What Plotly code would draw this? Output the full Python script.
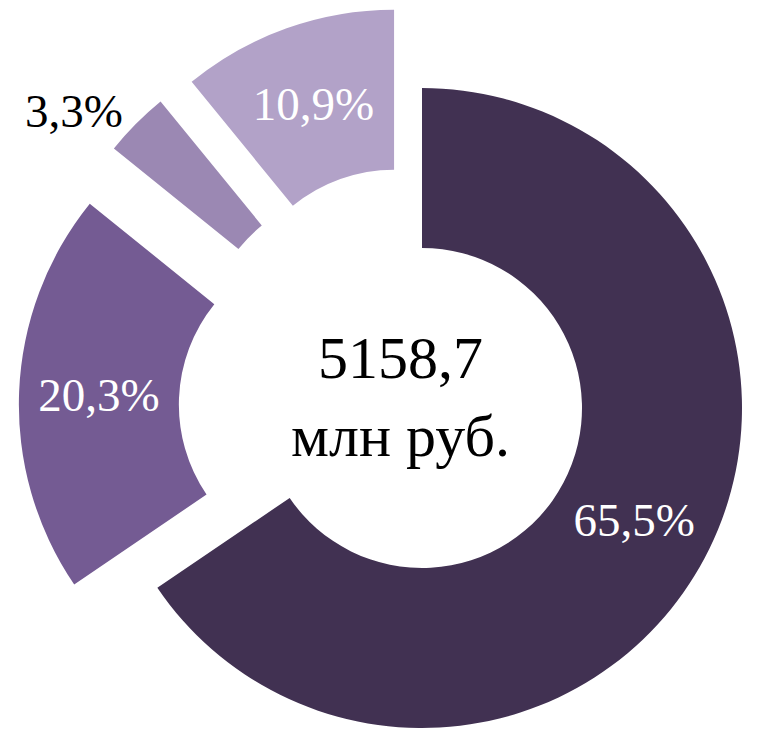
"""
Donut chart: structure of 5158,7 mln rub., small slices pulled out
"""

import math
import plotly.graph_objects as go

# Data
labels = ['A', 'B', 'C', 'D']
values = [65.5, 20.3, 3.3, 10.9]
pulls = [0, 0.26, 0.26, 0.26]
total_text = '5158,7'
unit_text = 'млн руб.'

colors = ['#413152', '#745b93', '#9b88b3', '#b2a2c8']
text_colors = ['white', 'white', 'black', 'white']
text_positions = ['inside', 'inside', 'outside', 'inside']

W, H = 757, 730
# page body adds an 8px margin, so positions are shifted back by it
OFF = 8
# unpulled pie center and radius, in pixels
CX, CY, R = 422 - OFF, 408 - OFF, 320
FONT = 'Liberation Serif, Times New Roman, serif'

fig = go.Figure()

total = sum(values)
start = 0.0
for i, v in enumerate(values):
    # each slice is drawn as its own pie, shifted outward along its mid angle
    mid = (start + v / 2) / total * 2 * math.pi
    start += v
    d = pulls[i] * R
    cx = CX + d * math.sin(mid)
    cy = CY - d * math.cos(mid)

    slice_colors = ['rgba(0,0,0,0)'] * len(values)
    slice_colors[i] = colors[i]
    templates = [''] * len(values)
    templates[i] = '%{value:.1f}%'

    fig.add_trace(go.Pie(
        labels=labels,
        values=values,
        hole=0.5,
        sort=False,
        direction='clockwise',
        rotation=0,
        marker=dict(colors=slice_colors, line=dict(width=0)),
        texttemplate=templates,
        textposition=text_positions[i],
        insidetextorientation='horizontal',
        textfont=dict(family=FONT, size=47, color=text_colors[i]),
        hoverinfo='skip',
        domain=dict(
            x=[(cx - R) / W, (cx + R) / W],
            y=[1 - (cy + R) / H, 1 - (cy - R) / H]
        ),
        showlegend=False
    ))

fig.add_annotation(
    x=(401 - OFF) / W, y=1 - (397 - OFF) / H,
    xref='paper', yref='paper',
    text=total_text + '<br>' + unit_text,
    showarrow=False,
    font=dict(family=FONT, size=60, color='black')
)

fig.update_layout(
    width=W,
    height=H,
    margin=dict(l=0, r=0, t=0, b=0),
    paper_bgcolor='white',
    plot_bgcolor='white',
    separators=', ',
    showlegend=False
)

fig.write_html('out.html')
